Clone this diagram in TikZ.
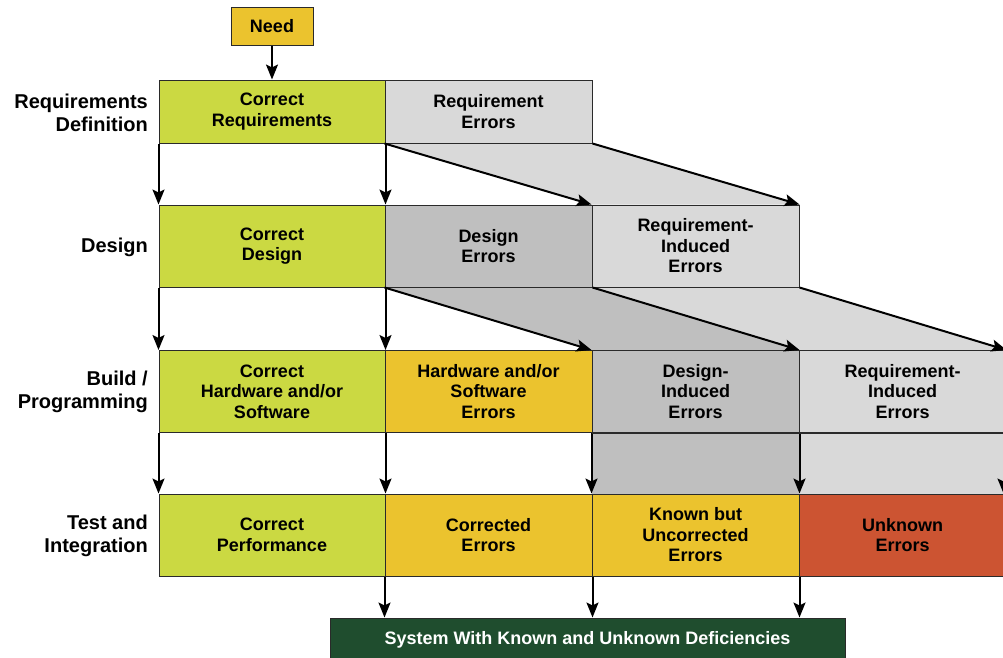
\documentclass[tikz,border=0pt]{standalone}
\usepackage{fontspec}
\setmainfont{Liberation Sans}
\usetikzlibrary{arrows.meta,backgrounds}
\definecolor{cgreen}{HTML}{CBD942}
\definecolor{cyellow}{HTML}{EBC32E}
\definecolor{corange}{HTML}{CC5432}
\definecolor{cdark}{HTML}{1F4D2E}
\definecolor{clgray}{HTML}{D9D9D9}
\definecolor{cmgray}{HTML}{BFBFBF}
\definecolor{cborder}{HTML}{2A2A2A}
\begin{document}
\begin{tikzpicture}[x=1pt,y=-1pt,
  cell/.style={draw=cborder, line width=1pt, inner sep=0pt, align=center,
    font=\bfseries\fontsize{18}{20.5}\selectfont, text=black},
  wide/.style={cell, minimum width=226pt},
  col/.style={cell, minimum width=207pt},
  rowA/.style={minimum height=63pt},
  rowB/.style={minimum height=82pt},
  lab/.style={anchor=east, align=right, inner sep=0pt,
    font=\bfseries\fontsize{20}{23}\selectfont},
  arr/.style={-{Stealth[length=15pt,width=12pt,inset=3pt]}, line width=2pt, black}]
\useasboundingbox (0,0) rectangle (1003,657);
\clip (0,0) rectangle (1003,657);

% Need
\node[cell, fill=cyellow, minimum width=82pt, minimum height=38pt] (need) at (272,26) {Need};

% Row 1: Requirements Definition (y 80-143)
\node[wide, rowA, fill=cgreen] (cr) at (272,111.5) {Correct\\Requirements};
\node[col, rowA, fill=clgray] (re) at (488.5,111.5) {Requirement\\Errors};

% Row 2: Design (y 205-287)
\node[wide, rowB, fill=cgreen] (cd) at (272,246) {Correct\\Design};
\node[col, rowB, fill=cmgray] (de) at (488.5,246) {Design\\Errors};
\node[col, rowB, fill=clgray] (rid) at (695.5,246) {Requirement-\\Induced\\Errors};

% Row 3: Build / Programming (y 350-433)
\node[wide, rowB, fill=cgreen] (chs) at (272,391.5) {Correct\\Hardware and/or\\Software};
\node[col, rowB, fill=cyellow] (hse) at (488.5,391.5) {Hardware and/or\\Software\\Errors};
\node[col, rowB, fill=cmgray] (dide) at (695.5,391.5) {Design-\\Induced\\Errors};
\node[col, rowB, fill=clgray] (ride) at (902.5,391.5) {Requirement-\\Induced\\Errors};

% Row 4: Test and Integration (y 494-576)
\node[wide, rowB, fill=cgreen] (cp) at (272,535) {Correct\\Performance};
\node[col, rowB, fill=cyellow] (ce) at (488.5,535) {Corrected\\Errors};
\node[col, rowB, fill=cyellow] (kue) at (695.5,535) {Known but\\Uncorrected\\Errors};
\node[col, rowB, fill=corange] (ue) at (902.5,535) {Unknown\\Errors};

% Final system
\node[cell, fill=cdark, text=white, minimum width=515pt, minimum height=44pt] (sys) at (587.5,640) {\raisebox{3pt}{System With Known and Unknown Deficiencies}};

% Row labels
\node[lab] (l1) at (148,113) {Requirements\\Definition};
\node[lab] (l2) at (148,247) {Design};
\node[lab] (l3) at (148,392) {Build /\\Programming};
\node[lab] (l4) at (148,536) {Test and\\Integration};

% Shaded flows
\begin{pgfonlayer}{background}
  \fill[clgray] (re.south west) -- (re.south east) -- (rid.north east) -- (rid.north west) -- cycle;
  \fill[cmgray] (de.south west) -- (de.south east) -- (dide.north east) -- (dide.north west) -- cycle;
  \fill[clgray] (rid.south west) -- (rid.south east) -- (ride.north east) -- (ride.north west) -- cycle;
  \fill[cmgray] (dide.south west) rectangle (kue.north east);
  \fill[clgray] (ride.south west) rectangle (ue.north east);
\end{pgfonlayer}

% Connectors
\draw[arr] (need) -- (cr);
\draw[arr] (cr.south west) -- (cd.north west);
\draw[arr] (cr.south east) -- (cd.north east);
\draw[arr] (re.south west) -- (rid.north west);
\draw[arr] (re.south east) -- (rid.north east);

\draw[arr] (cd.south west) -- (chs.north west);
\draw[arr] (cd.south east) -- (chs.north east);
\draw[arr] (de.south west) -- (dide.north west);
\draw[arr] (de.south east) -- (dide.north east);
\draw[arr] (rid.south east) -- (ride.north east);

\draw[arr] (chs.south west) -- (cp.north west);
\draw[arr] (chs.south east) -- (cp.north east);
\draw[arr] (dide.south west) -- (kue.north west);
\draw[arr] (dide.south east) -- (kue.north east);
\draw[arr] ([xshift=-3pt]ride.south east) -- ([xshift=-3pt]ue.north east);
\draw[cborder, line width=1pt] (dide.south west) -- ([xshift=10pt]ride.south east);

\draw[arr] (ce.south west) -- (ce.south west |- sys.north);
\draw[arr] (ce.south east) -- (ce.south east |- sys.north);
\draw[arr] (kue.south east) -- (kue.south east |- sys.north);
\end{tikzpicture}
\end{document}
